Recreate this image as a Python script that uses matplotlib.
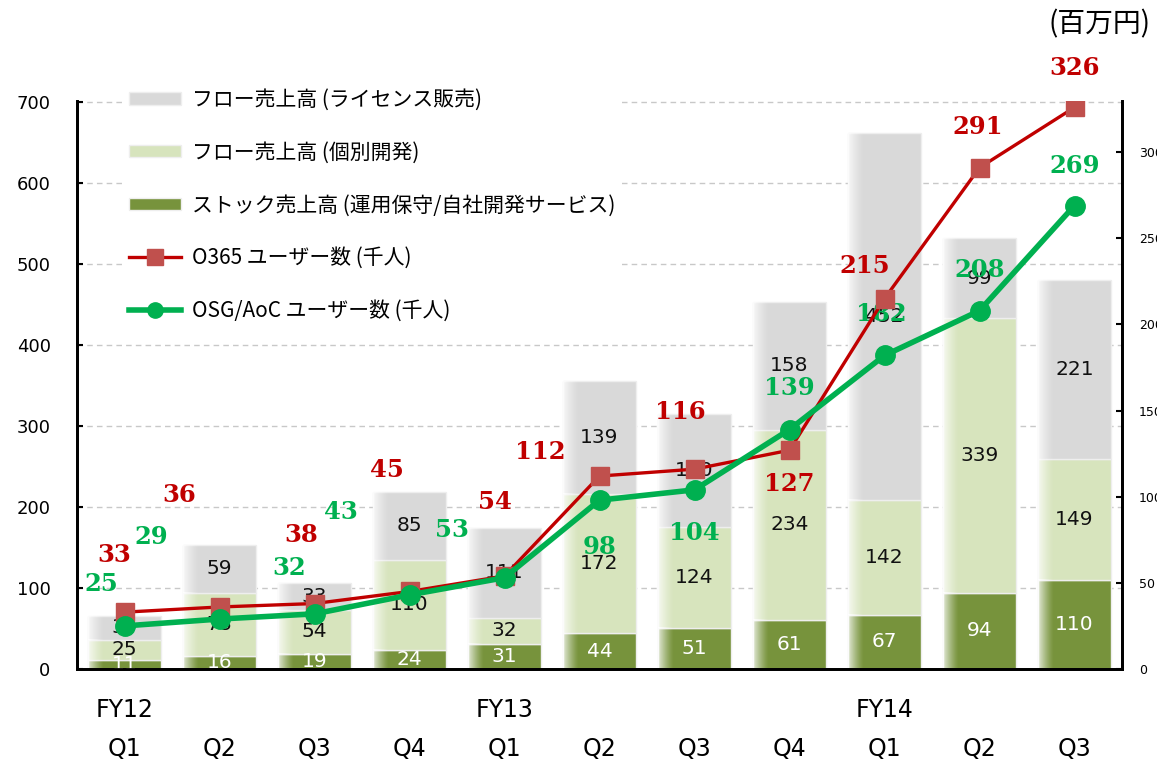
import matplotlib
matplotlib.use("Agg")
import matplotlib.pyplot as plt
import numpy as np
from matplotlib.patches import Patch
from matplotlib.lines import Line2D

plt.rcParams['font.family'] = ['Noto Sans CJK JP', 'DejaVu Sans']

quarters = ["Q1", "Q2", "Q3", "Q4", "Q1", "Q2", "Q3", "Q4", "Q1", "Q2", "Q3"]
fiscal_years = {0: "FY12", 4: "FY13", 8: "FY14"}

stock = [11, 16, 19, 24, 31, 44, 51, 61, 67, 94, 110]
flow_dev = [25, 78, 54, 110, 32, 172, 124, 234, 142, 339, 149]
flow_lic = [30, 59, 33, 85, 111, 139, 140, 158, 452, 99, 221]

o365 = [33, 36, 38, 45, 54, 112, 116, 127, 215, 291, 326]
osg = [25, 29, 32, 43, 53, 98, 104, 139, 182, 208, 269]

# label offsets in pixels (manual layout, like the original)
o365_off = [(-10, 57), (-40, 112), (-13, 69), (-23, 121), (-10, 74), (-59, 24),
            (-14, 57), (0, -34), (-20, 33), (-2, 41), (0, 39)]
osg_off = [(-23, 42), (-68, 82), (-25, 46), (-69, 83), (-53, 48), (0, -47),
           (0, -43), (0, 42), (-3, 41), (0, 41), (0, 40)]

c_lic = "#D9D9D9"
c_dev = "#D7E4BD"
c_stock = "#77933C"
c_red = "#C00000"
c_red_mk = "#C0504D"
c_green = "#00B050"

fig = plt.figure(figsize=(11.57, 7.62), dpi=100)
ax = fig.add_axes([77/1157, 1-669/762, (1122-77)/1157, (669-101)/762])
ax2 = ax.twinx()

x = np.arange(len(quarters))
w = 0.76
b_stock = np.array(stock)
b_dev = b_stock + np.array(flow_dev)

ax.set_axisbelow(True)
ax.yaxis.grid(True, linestyle=(0, (4, 3)), color="#C8C8C8", linewidth=1)

segs = [(stock, 0, c_stock, "white"),
        (flow_dev, b_stock, c_dev, "#111111"),
        (flow_lic, b_dev, c_lic, "#111111")]
for vals, bottom, col, tcol in segs:
    bars = ax.bar(x, vals, w, bottom=bottom, color=col, edgecolor="#EEEEEE",
                  linewidth=1, zorder=2)
    for xi, v, b in zip(x, vals, np.broadcast_to(bottom, len(x))):
        ax.text(xi, b + v/2, str(v), ha="center", va="center", fontsize=14.5,
                color=tcol, family="DejaVu Sans", zorder=3)
    # white fade on the left edge of each bar
    for p in bars:
        grad = np.zeros((1, 64, 4))
        grad[..., :3] = 1.0
        grad[0, :, 3] = np.linspace(0.85, 0, 64) ** 1.3
        ax.imshow(grad, extent=[p.get_x(), p.get_x() + p.get_width()*0.22,
                                p.get_y(), p.get_y() + p.get_height()],
                  aspect="auto", zorder=2.5, interpolation="bilinear")

ax.set_xlim(-0.5, 10.5)
ax.set_ylim(0, 701)
ax2.set_ylim(0, 329.7)

ax2.plot(x, o365, color=c_red, lw=2.4, marker="s", ms=13, mfc=c_red_mk,
         mec=c_red_mk, zorder=4)
ax2.plot(x, osg, color=c_green, lw=4, marker="o", ms=14, zorder=5)

for xi, v, off in zip(x, o365, o365_off):
    ax2.annotate(str(v), (xi, v), xytext=off, textcoords="offset pixels",
                 ha="center", va="center", fontsize=17.5, fontweight="bold",
                 color=c_red, family="DejaVu Serif", annotation_clip=False)
for xi, v, off in zip(x, osg, osg_off):
    ax2.annotate(str(v), (xi, v), xytext=off, textcoords="offset pixels",
                 ha="center", va="center", fontsize=17.5, fontweight="bold",
                 color=c_green, family="DejaVu Serif", annotation_clip=False)

# axes styling
for a in (ax, ax2):
    a.spines["top"].set_visible(False)
    a.spines["left"].set_linewidth(2)
    a.spines["right"].set_linewidth(2)
    a.spines["bottom"].set_linewidth(2)
ax.set_yticks(range(0, 701, 100))
ax.tick_params(axis="y", direction="in", length=4, width=1.5, pad=19, labelsize=13)
ax2.set_yticks(range(0, 301, 50))
ax2.tick_params(axis="y", direction="in", length=4, width=1.5, pad=12, labelsize=9)
for lab in ax.get_yticklabels() + ax2.get_yticklabels():
    lab.set_family("DejaVu Sans")

ax.set_xticks(x)
ax.set_xticklabels(quarters, family=["Liberation Sans Narrow", "DejaVu Sans"], fontsize=17)
ax.tick_params(axis="x", length=0, pad=49)
for i, fy in fiscal_years.items():
    ax.annotate(fy, (i, 0), xytext=(0, -41), textcoords="offset pixels",
                ha="center", va="center", fontsize=17,
                family=["Liberation Sans Narrow", "DejaVu Sans"], annotation_clip=False)

fig.text(0.994, 0.968, "(百万円)", ha="right", va="center", fontsize=20)

handles = [Patch(facecolor=c_lic, edgecolor="#EEEEEE"),
           Patch(facecolor=c_dev, edgecolor="#EEEEEE"),
           Patch(facecolor=c_stock, edgecolor="#EEEEEE"),
           Line2D([], [], color=c_red, lw=2.4, marker="s", ms=11, mfc=c_red_mk, mec=c_red_mk),
           Line2D([], [], color=c_green, lw=4, marker="o", ms=11)]
labels = ["フロー売上高 (ライセンス販売)", "フロー売上高 (個別開発)",
          "ストック売上高 (運用保守/自社開発サービス)",
          "O365 ユーザー数 (千人)", "OSG/AoC ユーザー数 (千人)"]
leg = ax2.legend(handles, labels, loc="upper left",
                 bbox_to_anchor=(112/1157, 1-72/762), bbox_transform=fig.transFigure,
                 fontsize=15, handlelength=2.5, handleheight=0.55, handletextpad=0.55,
                 labelspacing=1.48, frameon=True, framealpha=1, facecolor="white",
                 edgecolor="none", borderpad=0.3)
leg.set_zorder(10)

fig.savefig("out.png", dpi=100)
